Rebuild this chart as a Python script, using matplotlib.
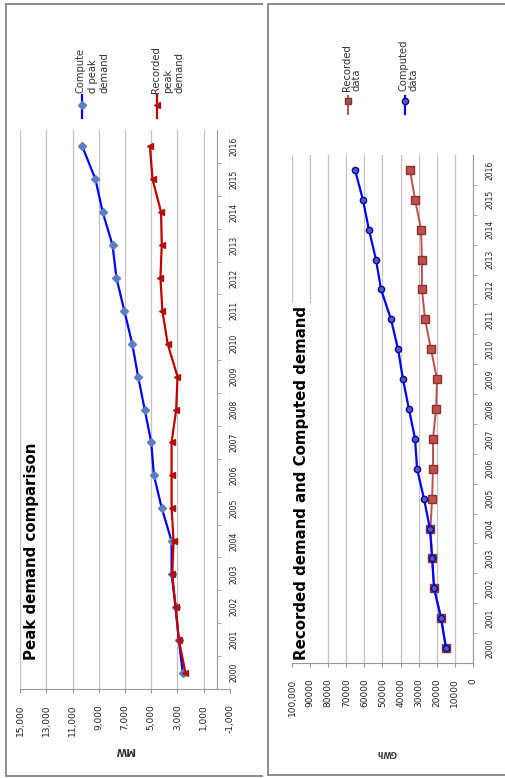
import matplotlib
matplotlib.use("Agg")
from matplotlib import pyplot as plt
from matplotlib.lines import Line2D
from matplotlib.ticker import FixedLocator

years = list(range(2000, 2017))
peak_computed = [2600, 2900, 3150, 3450, 3450, 4200, 4800, 5000, 5500, 6000,
                 6450, 7050, 7650, 7950, 8700, 9250, 10250]
peak_recorded = [2400, 2900, 3150, 3400, 3300, 3450, 3450, 3450, 3100, 3000,
                 3750, 4150, 4300, 4200, 4250, 4900, 5100]
energy_recorded = [15000, 17500, 21500, 22500, 23500, 22600, 22100, 22100, 20400, 19900,
                   23200, 26500, 28200, 28200, 28700, 32000, 34800]
energy_computed = [14900, 17700, 21500, 22600, 23800, 27100, 30900, 32000, 35400, 38700,
                   41400, 45300, 50800, 53600, 57500, 60800, 65200]

mw_ticks = list(range(-1000, 15001, 2000))
mw_labels = [f"{v:,}" for v in mw_ticks]
gwh_ticks = list(range(0, 100001, 10000))
gwh_labels = ["100,000" if v == 100000 else str(v) for v in gwh_ticks]

W, H = 506, 778
fig = plt.figure(figsize=(W / 100, H / 100), dpi=100)
fig.patch.set_facecolor("white")


def px_axes(x0, y0, x1, y1):
    return fig.add_axes([x0 / W, 1 - y1 / H, (x1 - x0) / W, (y1 - y0) / H])


def fx(x):
    return x / W


def fy(y):
    return 1 - y / H


def frame(x0, y0, x1, y1, sides):
    col = "#8c8c8c"
    if "left" in sides:
        fig.add_artist(Line2D([fx(x0), fx(x0)], [fy(y0), fy(y1)], color=col, lw=1.4))
    if "top" in sides:
        fig.add_artist(Line2D([fx(x0), fx(x1)], [fy(y0), fy(y0)], color=col, lw=1.4))
    if "bottom" in sides:
        fig.add_artist(Line2D([fx(x0), fx(x1)], [fy(y1), fy(y1)], color=col, lw=1.4))


def style_axes(ax, xticks, xlabels, xmax, xmin, year_pad):
    ax.set_xlim(xmax, xmin)
    ax.set_ylim(years[0] - 0.5, years[-1] + 0.5)
    ax.set_xticks(xticks)
    ax.set_xticklabels(xlabels, rotation=90, fontsize=6.5, color="#222222")
    ax.tick_params(axis="x", length=3, width=0.8, color="#999999", pad=8)
    ax.grid(axis="x", color="#c4c4c4", lw=0.9)
    ax.set_axisbelow(True)
    for s in ["top", "left"]:
        ax.spines[s].set_visible(False)
    ax.spines["bottom"].set_color("#999999")
    ax.spines["right"].set_position(("data", 0))
    ax.spines["right"].set_color("#999999")
    ax.yaxis.tick_right()
    ax.set_yticks(years)
    ax.set_yticklabels([str(y) for y in years], rotation=90, fontsize=5.5,
                       va="center", color="#222222")
    ax.yaxis.set_minor_locator(FixedLocator([y + 0.5 for y in years[:-1]]))
    ax.tick_params(axis="y", which="major", length=0, pad=year_pad)
    ax.tick_params(axis="y", which="minor", length=3, color="#999999",
                   left=False, right=True)


# ---------- left chart: peak demand ----------
frame(6, 4, 262, 776, ["left", "top", "bottom"])
ax1 = px_axes(20, 130, 230, 689)
style_axes(ax1, mw_ticks, mw_labels, 15000, -1000, 9)
ax1.plot(peak_computed, years, color="#0000ff", lw=1.6, marker="D", ms=4.5,
         mfc="#5b7fc0", mec="#5b7fc0", zorder=3)
ax1.plot(peak_recorded, years, color="#c00000", lw=1.6, marker="<", ms=5,
         mfc="#b01010", mec="#b01010", zorder=4)
fig.text(fx(125), fy(750), "MW", rotation=180, fontsize=7, fontweight="bold",
         ha="center", va="center", color="#333333")
ax1.text(fx(32), fy(660), "Peak demand comparison", transform=fig.transFigure,
         rotation=90, fontsize=10.8, fontweight="bold", ha="center", va="bottom",
         bbox=dict(facecolor="white", edgecolor="none", pad=2), zorder=5)

# legend (drawn rotated by hand)
fig.add_artist(Line2D([fx(82), fx(82)], [fy(95), fy(118)], color="#0000ff", lw=1.6))
fig.add_artist(Line2D([fx(82)], [fy(105)], marker="D", ms=4.5, color="#5b7fc0", lw=0))
fig.text(fx(76), fy(93), "Compute\nd peak\ndemand", rotation=90, fontsize=7.2,
         ha="left", va="bottom", linespacing=1.25, color="#333333")
fig.add_artist(Line2D([fx(157), fx(157)], [fy(95), fy(118)], color="#c00000", lw=1.6))
fig.add_artist(Line2D([fx(157)], [fy(105)], marker="<", ms=5, color="#b01010", lw=0))
fig.text(fx(151), fy(93), "Recorded\npeak\ndemand", rotation=90, fontsize=7.2,
         ha="left", va="bottom", linespacing=1.25, color="#333333")

# ---------- right chart: energy demand ----------
frame(268, 4, 506, 775, ["left", "top", "bottom"])
ax2 = px_axes(292, 155, 473, 663)
style_axes(ax2, gwh_ticks, gwh_labels, 100000, 0, 9)
ax2.plot(energy_recorded, years, color="#c0504d", lw=1.4, marker="s", ms=5.5,
         mfc="#c0504d", mec="#8b3030", zorder=3)
ax2.plot(energy_computed, years, color="#0000ff", lw=1.6, marker="o", ms=4.5,
         mfc="#5a5ab0", mec="#0000aa", mew=1.0, zorder=4)
fig.text(fx(387), fy(753), "GWh", rotation=180, fontsize=5.5, fontweight="bold",
         ha="center", va="center", color="#333333")
ax2.text(fx(302), fy(660), "Recorded demand and Computed demand",
         transform=fig.transFigure, rotation=90, fontsize=10.8, fontweight="bold",
         ha="center", va="bottom",
         bbox=dict(facecolor="white", edgecolor="none", pad=2), zorder=5)

fig.add_artist(Line2D([fx(348), fx(348)], [fy(96), fy(114)], color="#c0504d", lw=1.4))
fig.add_artist(Line2D([fx(348)], [fy(101)], marker="s", ms=5, mfc="#8b5a5a",
                      mec="#8b3030", lw=0))
fig.text(fx(342), fy(91), "Recorded\ndata", rotation=90, fontsize=7.2,
         ha="left", va="bottom", linespacing=1.0, color="#333333")
fig.add_artist(Line2D([fx(405), fx(405)], [fy(96), fy(114)], color="#0000ff", lw=1.6))
fig.add_artist(Line2D([fx(405)], [fy(101)], marker="o", ms=4.5, mfc="#5a5ab0",
                      mec="#0000aa", lw=0))
fig.text(fx(399), fy(91), "Computed\ndata", rotation=90, fontsize=7.2,
         ha="left", va="bottom", linespacing=1.0, color="#333333")

fig.savefig("out.png", dpi=100, facecolor="white")
